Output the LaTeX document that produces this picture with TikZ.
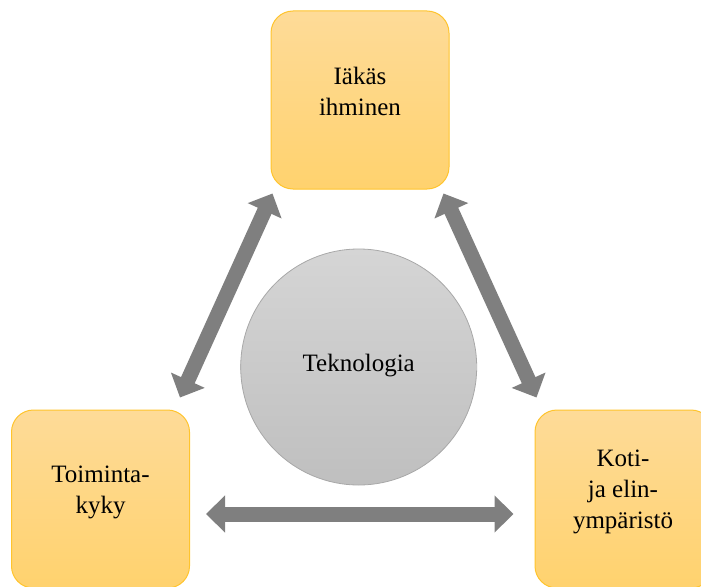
\documentclass[tikz,border=0pt]{standalone}
\usepackage{fontspec}
\setmainfont{Liberation Serif}
\usetikzlibrary{arrows.meta,calc}
\definecolor{boxtop}{RGB}{254,219,152}
\definecolor{boxbot}{RGB}{255,210,110}
\definecolor{boxline}{RGB}{255,196,45}
\definecolor{circtop}{RGB}{213,213,213}
\definecolor{circbot}{RGB}{191,191,191}
\definecolor{circline}{RGB}{168,168,168}
\definecolor{arrowgray}{RGB}{127,127,127}
\tikzset{
  boxnode/.style={draw=boxline, line width=1pt, rounded corners=22pt,
    top color=boxtop, bottom color=boxbot, minimum width=178pt,
    minimum height=178pt, inner sep=0pt},
  techcircle/.style={circle, draw=circline, line width=0.8pt,
    top color=circtop, bottom color=circbot, minimum size=236pt, inner sep=0pt},
  label text/.style={align=center, inner sep=0pt, text=black,
    font=\fontsize{25}{31}\selectfont},
  bigarrow/.style={draw=arrowgray, line width=15pt,
    {Triangle[width=36pt,length=19pt]}-{Triangle[width=36pt,length=19pt]}}
}
\begin{document}
\begin{tikzpicture}[x=1pt,y=-1pt]
\useasboundingbox (0,0) rectangle (701,586);
\clip (0,0) rectangle (701,586);
% boxes
\node[boxnode] (top) at (360,100) {};
\node[boxnode] (tl) at (100.5,499) {};
\node[boxnode] (br) at (624,499) {};
\node[techcircle] (tech) at (358.7,367) {};
% texts
\node[label text] (toptxt) at (360,91) {Iäkäs\\ihminen};
\node[label text] (tltxt) at (100.5,492) {Toiminta-\\kyky};
\node[label text] (brtxt) at (623,492) {Koti-\\ja elin-\\ympäristö};
\node[label text] (techtxt) at (358.7,365.5) {Teknologia};
% arrow end points
\coordinate (l1) at ($(tl.north east)+(-10,-12)$);
\coordinate (l2) at ($(top.south west)+(2,4)$);
\coordinate (r1) at ($(top.south east)+(-6,4)$);
\coordinate (r2) at ($(br.north west)+(2,-12)$);
\coordinate (h1) at ($(tl.east)+(16,15)$);
\coordinate (h2) at ($(br.west)+(-21,15)$);
\draw[bigarrow] (l1) -- (l2);
\draw[bigarrow] (r1) -- (r2);
\draw[bigarrow] (h1) -- (h2);
\end{tikzpicture}
\end{document}
